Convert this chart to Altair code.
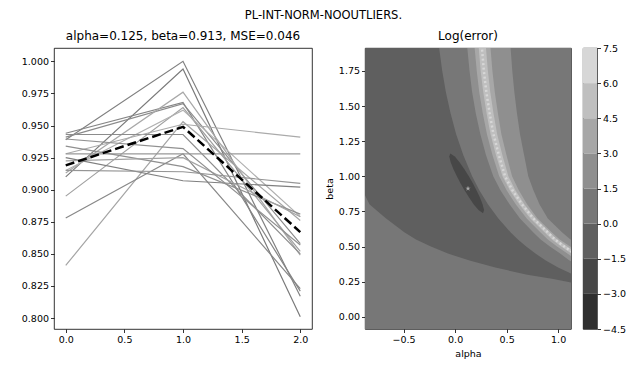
import altair as alt
import pandas as pd

# ---------------- left panel: profiles ----------------
x_vals = [0, 1, 2]
series = [
    [0.939, 1.000, 0.817],
    [0.910, 0.994, 0.801],
    [0.944, 0.968, 0.821],
    [0.941, 0.967, 0.858],
    [0.913, 0.976, 0.849],
    [0.895, 0.964, 0.852],
    [0.915, 0.962, 0.879],
    [0.841, 0.953, 0.876],
    [0.878, 0.928, 0.823],
    [0.943, 0.943, 0.850],
    [0.928, 0.951, 0.941],
    [0.928, 0.928, 0.928],
    [0.925, 0.907, 0.902],
    [0.915, 0.914, 0.905],
    [0.934, 0.918, 0.881],
    [0.9225, 0.925, 0.879],
    [0.9395, 0.932, 0.857],
]
shades = ["#808080", "#7a7a7a", "#858585", "#8a8a8a", "#a8a8a8", "#a0a0a0",
          "#b0b0b0", "#a5a5a5", "#888888", "#8c8c8c", "#aaaaaa", "#999999",
          "#7f7f7f", "#959595", "#8f8f8f", "#a3a3a3", "#909090"]
mean_line = [0.919, 0.949, 0.867]
y_ticks = [0.800, 0.825, 0.850, 0.875, 0.900, 0.925, 0.950, 0.975, 1.000]
x_ticks = [0.0, 0.5, 1.0, 1.5, 2.0]

# ---------------- right panel: Log(error) contour ----------------
levels = [-4.5, -3.0, -1.5, 0.0, 1.5, 3.0, 4.5, 6.0, 7.5]
level_colors = ["#2f2f2f", "#474747", "#5f5f5f", "#777777",
                "#8f8f8f", "#a7a7a7", "#bfbfbf", "#d7d7d7"]
alpha_range = [-0.875, 1.125]
beta_range = [-0.087, 1.913]
alpha_ticks = [-0.5, 0.0, 0.5, 1.0]
beta_ticks = [0.0, 0.25, 0.5, 0.75, 1.0, 1.25, 1.5, 1.75]
best_alpha = [0.125]
best_beta = [0.913]

beta_grid = [2.0, 1.9, 1.75, 1.6, 1.45, 1.3, 1.15, 1.0, 0.9, 0.8, 0.7, 0.6,
             0.55, 0.5, 0.45, 0.4, 0.35, 0.3, 0.27, 0.243]
dark_left = [-0.9, -0.9, -0.9, -0.9, -0.9, -0.9, -0.9, -0.9, -0.9, -0.83, -0.67,
             -0.49, -0.38, -0.235, -0.07, 0.14, 0.39, 0.70, 0.94, 1.128]
c0_left = [-0.17, -0.153, -0.125, -0.09, -0.045, 0.01, 0.08, 0.165, 0.235, 0.32,
           0.42, 0.54, 0.61, 0.69, 0.78, 0.88, 1.0, 1.15, 1.25, 1.35]
c15_left = [0.11, 0.12, 0.14, 0.165, 0.20, 0.245, 0.30, 0.37, 0.44, 0.53, 0.63,
            0.76, 0.83, 0.92, 1.02, 1.11, 1.25, 1.4, 1.5, 1.6]
c3_left = [0.18, 0.191, 0.21, 0.234, 0.268, 0.309, 0.363, 0.428, 0.50, 0.59,
           0.695, 0.83, 0.90, 0.99, 1.09, 1.195, 1.325, 1.475, 1.55, 1.65]
c45_left = [0.219, 0.231, 0.248, 0.273, 0.305, 0.344, 0.397, 0.46, 0.531, 0.624,
            0.731, 0.87, 0.94, 1.03, 1.13, 1.24, 1.37, 1.52, 1.6, 1.7]
ridge = [0.250, 0.262, 0.279, 0.303, 0.335, 0.372, 0.425, 0.485, 0.557, 0.65,
         0.76, 0.90, 0.97, 1.06, 1.16, 1.28, 1.40, 1.55, 1.62, 1.72]
c45_right = [0.289, 0.301, 0.318, 0.341, 0.372, 0.408, 0.459, 0.517, 0.585, 0.674,
             0.78, 0.92, 0.99, 1.087, 1.19, 1.31, 1.43, 1.58, 1.65, 1.75]
c3_right = [0.334, 0.345, 0.362, 0.385, 0.415, 0.449, 0.499, 0.553, 0.618, 0.70,
            0.80, 0.94, 1.015, 1.117, 1.23, 1.35, 1.47, 1.6, 1.7, 1.8]
c15_right = [0.53, 0.54, 0.555, 0.575, 0.60, 0.63, 0.67, 0.71, 0.76, 0.82, 0.90,
             1.04, 1.12, 1.25, 1.4, 1.5, 1.6, 1.7, 1.8, 1.9]

ell_beta = [1.163, 1.14, 1.10, 1.05, 1.0, 0.95, 0.90, 0.85, 0.80, 0.76, 0.737]
ell_left = [-0.047, -0.057, -0.043, -0.016, 0.017, 0.052, 0.091, 0.134, 0.181, 0.227, 0.271]
ell_right = [-0.047, -0.003, 0.043, 0.090, 0.133, 0.172, 0.207, 0.240, 0.267, 0.281, 0.271]

FONT = "DejaVu Sans"
STAR = ("M0,-1L0.2245,-0.309L0.951,-0.309L0.363,0.118L0.588,0.809L0,0.382"
        "L-0.588,0.809L-0.363,0.118L-0.951,-0.309L-0.2245,-0.309Z")

# ---------------- left chart ----------------
rows = []
for i, s in enumerate(series):
    for x, v in zip(x_vals, s):
        rows.append({"x": x, "y": v, "line": i, "shade": shades[i]})
left_df = pd.DataFrame(rows)
mean_df = pd.DataFrame({"x": x_vals, "y": mean_line})

lxs = alt.Scale(domain=[-0.1, 2.1], nice=False, zero=False)
lys = alt.Scale(domain=[0.7915, 1.0104], nice=False, zero=False)
lxa = alt.Axis(values=x_ticks, format=".1f", title=None)
lya = alt.Axis(values=y_ticks, format=".3f", title=None)

lines = alt.Chart(left_df).mark_line(strokeWidth=1.2).encode(
    x=alt.X("x:Q", scale=lxs, axis=lxa),
    y=alt.Y("y:Q", scale=lys, axis=lya),
    detail="line:N",
    color=alt.Color("shade:N", scale=None),
)
mean = alt.Chart(mean_df).mark_line(color="black", strokeWidth=2.5, strokeDash=[9, 4]).encode(
    x=alt.X("x:Q", scale=lxs, axis=lxa),
    y=alt.Y("y:Q", scale=lys, axis=lya),
)
left = alt.layer(
    lines, mean,
    title=alt.TitleParams("alpha=0.125, beta=0.913, MSE=0.046", fontSize=12),
).properties(width=258, height=281)

# ---------------- right chart ----------------
rxs = alt.Scale(domain=alpha_range, nice=False, zero=False)
rys = alt.Scale(domain=beta_range, nice=False, zero=False)
rxa = alt.Axis(values=alpha_ticks, format=".1f", title="alpha")
rya = alt.Axis(values=beta_ticks, format=".2f", title="beta")

bg_df = pd.DataFrame({"a0": [alpha_range[0]], "a1": [alpha_range[1]],
                      "b0": [beta_range[0]], "b1": [beta_range[1]]})
background = alt.Chart(bg_df).mark_rect(color=level_colors[3]).encode(
    x=alt.X("a0:Q", scale=rxs, axis=rxa),
    x2="a1:Q",
    y=alt.Y("b0:Q", scale=rys, axis=rya),
    y2="b1:Q",
)


def band(lefts, rights, betas, color):
    df = pd.DataFrame({"beta": betas, "l": lefts, "r": rights})
    return alt.Chart(df).mark_area(orient="horizontal", clip=True, color=color).encode(
        y=alt.Y("beta:Q", scale=rys, axis=rya),
        x=alt.X("l:Q", scale=rxs, axis=rxa),
        x2="r:Q",
    )


dark = band(dark_left, c0_left, beta_grid, level_colors[2])
b15 = band(c15_left, c15_right, beta_grid, level_colors[4])
b3 = band(c3_left, c3_right, beta_grid, level_colors[5])
b45 = band(c45_left, c45_right, beta_grid, level_colors[6])
ellipse = band(ell_left, ell_right, ell_beta, level_colors[1])

ridge_df = pd.DataFrame({"beta": beta_grid, "a0": ridge})
ridge_line = alt.Chart(ridge_df).mark_line(
    clip=True, color=level_colors[7], strokeWidth=2.5, strokeDash=[2, 2.5]
).encode(
    x=alt.X("a0:Q", scale=rxs, axis=rxa),
    y=alt.Y("beta:Q", scale=rys, axis=rya),
    order="beta:Q",
)
star_df = pd.DataFrame({"a0": best_alpha, "b0": best_beta})
star = alt.Chart(star_df).mark_point(shape=STAR, filled=True, size=30,
                                      color="#aaaaaa", opacity=1).encode(
    x=alt.X("a0:Q", scale=rxs, axis=rxa),
    y=alt.Y("b0:Q", scale=rys, axis=rya),
)
right = alt.layer(
    background, dark, b15, b3, b45, ridge_line, ellipse, star,
    title=alt.TitleParams("Log(error)", fontSize=12),
).properties(width=206, height=281)

# ---------------- colorbar ----------------
cb_df = pd.DataFrame({"lo": levels[:-1], "hi": levels[1:], "c": level_colors,
                      "k0": [0] * 8, "k1": [1] * 8})
cbar = alt.Chart(cb_df).mark_rect().encode(
    x=alt.X("k0:Q", scale=alt.Scale(domain=[0, 1], nice=False, zero=False), axis=None),
    x2="k1:Q",
    y=alt.Y("lo:Q", scale=alt.Scale(domain=[levels[0], levels[-1]], nice=False, zero=False),
            axis=alt.Axis(values=levels, format=".1f", title=None, orient="right")),
    y2="hi:Q",
    color=alt.Color("c:N", scale=None),
).properties(width=14, height=281)

chart = alt.hconcat(left, right, cbar, spacing=10,
                    title=alt.TitleParams("PL-INT-NORM-NOOUTLIERS.", anchor="middle",
                                          offset=8, fontSize=11.5)
).properties(
    padding={"left": 20, "top": 10, "right": 5, "bottom": 5},
).configure_view(
    stroke="black", strokeWidth=0.8,
).configure_axis(
    labelFont=FONT, labelFontSize=9.5, labelColor="black",
    titleFont=FONT, titleFontSize=9.5, titleFontWeight="normal", titleColor="black",
    grid=False, tickColor="black", tickSize=3.5, tickWidth=0.8,
    domain=False, labelPadding=2, labelOverlap=False, labelBound=False,
).configure_title(
    font=FONT, fontSize=11.5, fontWeight="normal", color="black", offset=5,
)

chart.save("out.html", embed_options={"renderer": "svg", "actions": False})
